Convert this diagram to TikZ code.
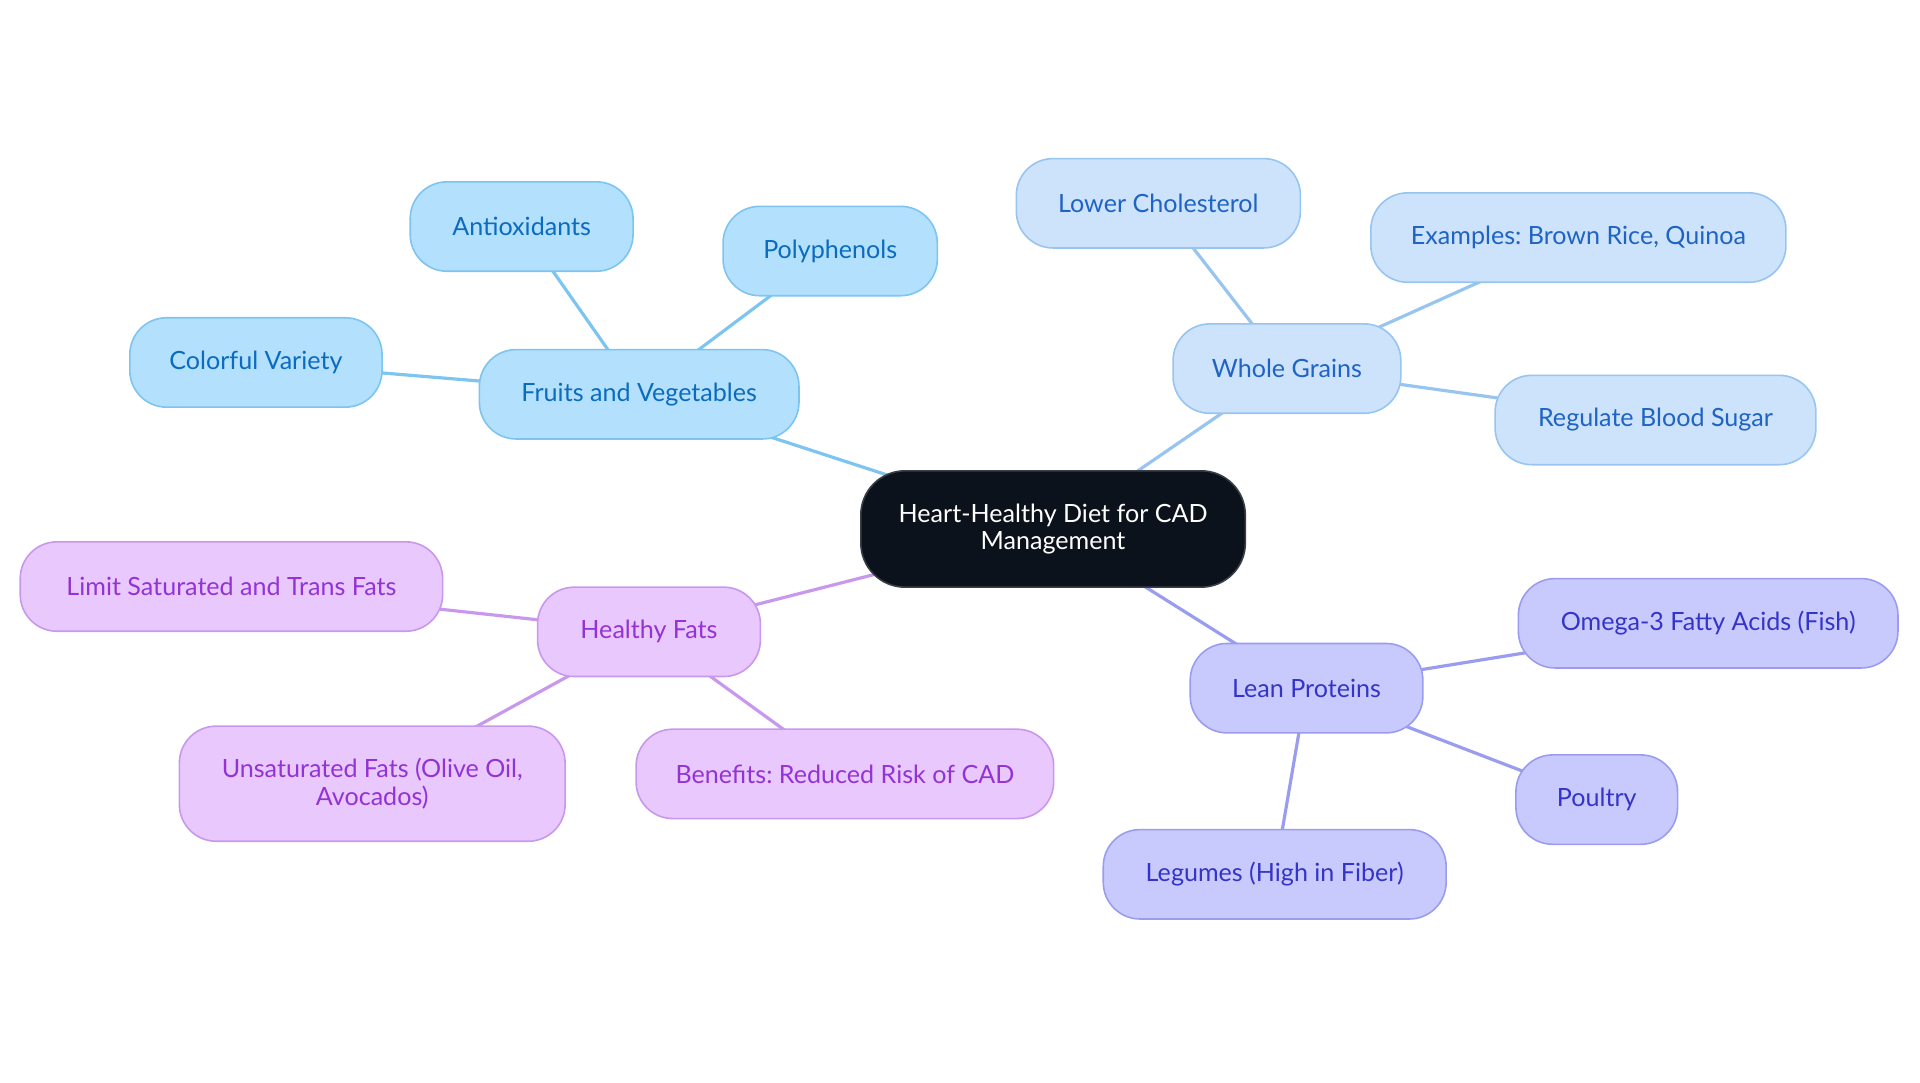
\documentclass[tikz,border=0pt]{standalone}
\usepackage{fontspec}
\setmainfont{Lato}
\usetikzlibrary{backgrounds}
\frenchspacing
\definecolor{fvfill}{HTML}{B3E0FD}
\definecolor{fvdraw}{HTML}{7DC4F0}
\definecolor{fvtext}{HTML}{0B6BBF}
\definecolor{wgfill}{HTML}{CCE3FB}
\definecolor{wgdraw}{HTML}{98C4F0}
\definecolor{wgtext}{HTML}{1F63C4}
\definecolor{hffill}{HTML}{E8C8FD}
\definecolor{hfdraw}{HTML}{C898EC}
\definecolor{hftext}{HTML}{9333D6}
\definecolor{lpfill}{HTML}{C8CAFE}
\definecolor{lpdraw}{HTML}{9A9CF0}
\definecolor{lptext}{HTML}{3434C8}
\definecolor{cfill}{HTML}{0C121C}
\definecolor{cdraw}{HTML}{3A3F47}
\begin{document}
\begin{tikzpicture}[x=1pt,y=-1pt,
  box/.style={rectangle, rounded corners=30pt, line width=1.3pt, inner sep=0pt,
    minimum height=73pt, align=center, font=\fontsize{20.5}{22.5}\selectfont\frenchspacing},
  fv/.style={box, fill=fvfill, draw=fvdraw, text=fvtext},
  wg/.style={box, fill=wgfill, draw=wgdraw, text=wgtext},
  hf/.style={box, fill=hffill, draw=hfdraw, text=hftext},
  lp/.style={box, fill=lpfill, draw=lpdraw, text=lptext},
  root/.style={box, fill=cfill, draw=cdraw, text=white, rounded corners=36pt},
  fvl/.style={draw=fvdraw, line width=2.6pt},
  wgl/.style={draw=wgdraw, line width=2.6pt},
  hfl/.style={draw=hfdraw, line width=2.6pt},
  lpl/.style={draw=lpdraw, line width=2.6pt}]
\useasboundingbox (0,0) rectangle (1568,884);
% nodes
\node[root, minimum width=314pt, minimum height=95pt] (c) at (860,432) {Heart-Healthy Diet for CAD\\Management};

\node[fv, minimum width=261pt] (fv) at (522,322) {Fruits and Vegetables};
\node[fv, minimum width=182pt] (ant) at (426,185) {Antioxidants};
\node[fv, minimum width=175pt] (pol) at (678,205) {Polyphenols};
\node[fv, minimum width=206pt] (col) at (209,296) {Colorful Variety};

\node[wg, minimum width=186pt] (wg) at (1051,301) {Whole Grains};
\node[wg, minimum width=232pt] (chol) at (946,166) {Lower Cholesterol};
\node[wg, minimum width=339pt] (ex) at (1289,194) {Examples: Brown Rice, Quinoa};
\node[wg, minimum width=262pt] (sug) at (1352,343) {Regulate Blood Sugar};

\node[hf, minimum width=182pt] (hf) at (530,516) {Healthy Fats};
\node[hf, minimum width=345pt] (lim) at (189,479) {Limit Saturated and Trans Fats};
\node[hf, minimum width=315pt, minimum height=94pt] (uns) at (304,640) {Unsaturated Fats (Olive Oil,\\Avocados)};
\node[hf, minimum width=341pt] (ben) at (690,632) {Benefits: Reduced Risk of CAD};

\node[lp, minimum width=190pt] (lp) at (1067,562) {Lean Proteins};
\node[lp, minimum width=310pt] (om) at (1395,509) {Omega-3 Fatty Acids (Fish)};
\node[lp, minimum width=132pt] (pou) at (1304,653) {Poultry};
\node[lp, minimum width=280pt] (leg) at (1041,714) {Legumes (High in Fiber)};

% edges
\begin{scope}[on background layer]
\draw[fvl] (c.center) -- (fv.center);
\draw[fvl] (fv.center) -- (ant.center);
\draw[fvl] (fv.center) -- (pol.center);
\draw[fvl] (fv.center) -- (col.center);
\draw[wgl] (c.center) -- (wg.center);
\draw[wgl] (wg.center) -- (chol.center);
\draw[wgl] (wg.center) -- (ex.center);
\draw[wgl] (wg.center) -- (sug.center);
\draw[hfl] (c.center) -- (hf.center);
\draw[hfl] (hf.center) -- (lim.center);
\draw[hfl] (hf.center) -- (uns.center);
\draw[hfl] (hf.center) -- (ben.center);
\draw[lpl] (c.center) -- (lp.center);
\draw[lpl] (lp.center) -- (om.center);
\draw[lpl] (lp.center) -- (pou.center);
\draw[lpl] (lp.center) -- (leg.center);
\end{scope}
\end{tikzpicture}
\end{document}
